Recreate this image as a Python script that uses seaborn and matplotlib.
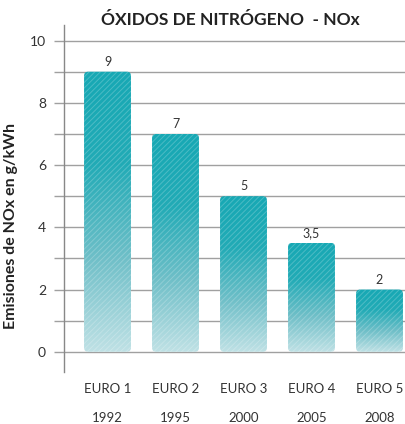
import numpy as np
import matplotlib
matplotlib.use("Agg")
import matplotlib.pyplot as plt
from matplotlib.patches import FancyBboxPatch
from matplotlib.colors import LinearSegmentedColormap
import seaborn as sns

# data
normas = ["EURO 1", "EURO 2", "EURO 3", "EURO 4", "EURO 5"]
anios = ["1992", "1995", "2000", "2005", "2008"]
nox = [9, 7, 5, 3.5, 2]
etiquetas = ["9", "7", "5", "3,5", "2"]

sns.set_theme(style="white")
plt.rcParams['font.family'] = ['Lato', 'DejaVu Sans']
plt.rcParams['hatch.linewidth'] = 0.7

fig = plt.figure(figsize=(4.05, 4.24), dpi=100)
ax = fig.add_axes([0.158, 0.1226, 0.842, 0.8184])

sns.barplot(x=normas, y=nox, color="#1aa9b4", width=0.69, ax=ax, zorder=3)

cmap = LinearSegmentedColormap.from_list("teal", ["#bfe1e5", "#6fbfc8", "#22abb6", "#17a8b4"])
grad = np.linspace(0, 1, 256).reshape(-1, 1)

for bar, lab in zip(ax.patches, etiquetas):
    x, w, h = bar.get_x(), bar.get_width(), bar.get_height()
    bar.set_visible(False)
    shape = FancyBboxPatch((x, 0), w, h, boxstyle="round,pad=0,rounding_size=0.06",
                           mutation_aspect=2.2, facecolor="none", edgecolor="none",
                           transform=ax.transData)
    ax.add_patch(shape)
    im = ax.imshow(grad, extent=[x, x + w, 0, h], origin="lower", aspect="auto",
                   cmap=cmap, zorder=3, interpolation="bilinear")
    im.set_clip_path(shape)
    rayas = FancyBboxPatch((x, 0), w, h, boxstyle="round,pad=0,rounding_size=0.06",
                           mutation_aspect=2.2, facecolor="none", edgecolor=(1, 1, 1, 0.22),
                           hatch="//////", linewidth=0, zorder=4)
    ax.add_patch(rayas)
    ax.text(x + w / 2, h + 0.13, lab, ha="center", va="bottom", fontsize=9, color="#333333")

ax.set_xlim(-0.64, 4.375)
ax.set_ylim(-0.65, 10.5)
ax.set_yticks(range(0, 11))
ax.set_yticklabels([str(v) if v % 2 == 0 else "" for v in range(0, 11)], fontsize=10, color="#333333")
ax.yaxis.grid(True, color="#a0a0a0", linewidth=1.0, zorder=0)
ax.tick_params(axis="y", length=7, width=1.0, color="#a0a0a0", pad=6, left=True)
ax.tick_params(axis="x", length=0, pad=8)
ax.set_xticks(range(len(normas)))
ax.set_xticklabels(normas, fontsize=9.5, color="#333333")
for i, a in enumerate(anios):
    ax.text(i, -0.132, a, transform=ax.get_xaxis_transform(), ha="center", va="center",
            fontsize=9.5, color="#333333")

for s in ["top", "right", "bottom"]:
    ax.spines[s].set_visible(False)
ax.spines["left"].set_color("#888888")
ax.spines["left"].set_linewidth(1.0)

ax.set_ylabel("Emisiones de NOx en g/kWh", fontsize=11.5, fontweight="bold", color="#222222")
ax.yaxis.set_label_coords(-0.135, 0.42)
fig.text(0.568, 0.953, "ÓXIDOS DE NITRÓGENO  - NOx", ha="center", va="center",
         fontsize=12.5, fontweight="bold", color="#222222")

fig.savefig("out.png", dpi=100)
plt.close(fig)
